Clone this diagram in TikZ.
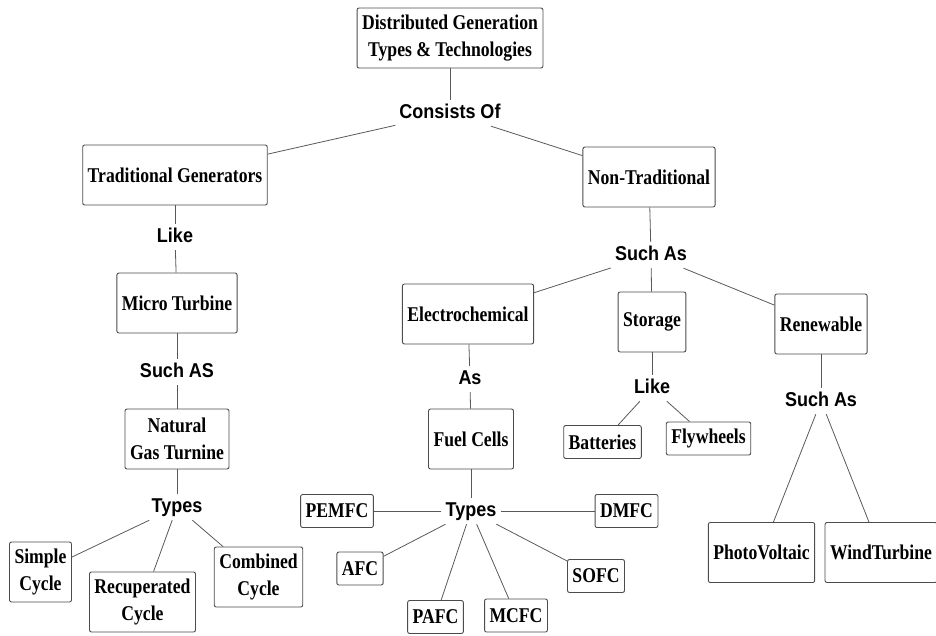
\documentclass[tikz,border=0pt]{standalone}
\usepackage{fontspec}
\setmainfont{Liberation Serif}[FakeStretch=0.84]
\newfontfamily\lblfont{Liberation Sans}[FakeStretch=0.9]

\begin{document}
\begin{tikzpicture}[x=1pt, y=-1pt,
        box/.style={rectangle, rounded corners=2pt, draw=black!70, line width=0.9pt,
                    fill=white, align=center, inner xsep=5pt, minimum height=60pt,
                    font=\fontsize{21}{27}\selectfont\bfseries},
        smallbox/.style={box, minimum height=33pt},
        lbl/.style={inner sep=4pt, text height=14pt, text depth=4pt,
                    font=\lblfont\fontsize{20}{24}\selectfont\bfseries},
        con/.style={black!65, line width=0.8pt}]
        \useasboundingbox (0,0) rectangle (936,635);
        \clip (0,0) rectangle (936,635);
        \node[box] (dgt) at (450,38) {Distributed Generation\\Types \& Technologies};
        \node[lbl] (consists) at (450,113) {Consists Of};
        \node[box] (trad)    at (175,175) {Traditional Generators};
        \node[box] (nontrad) at (649,177) {Non-Traditional};
        \node[lbl] (like1)   at (175,237) {Like};
        \node[box] (micro)   at (177,303) {Micro Turbine};
        \node[lbl] (suchas1) at (177,372) {Such AS};
        \node[box] (natgas)  at (177,439) {Natural\\Gas Turnine};
        \node[lbl] (types1)  at (177,507) {Types};
        \node[box] (simple)  at (40.5,572) {Simple\\Cycle};
        \node[box] (recup)   at (142.5,602) {Recuperated\\Cycle};
        \node[box] (comb)    at (258.5,577) {Combined\\Cycle};
        \node[lbl] (suchas2) at (651,255) {Such As};
        \node[box] (electro) at (468,314) {Electrochemical};
        \node[box] (storage) at (652,322) {Storage};
        \node[box] (renew)   at (821,324) {Renewable};
        \node[lbl] (as)      at (470,379) {As};
        \node[box] (fuel)    at (471,439) {Fuel Cells};
        \node[lbl] (types2)  at (471,511) {Types};
        \node[smallbox] (pemfc) at (337,511) {PEMFC};
        \node[smallbox] (dmfc)  at (626.5,511) {DMFC};
        \node[smallbox] (afc)   at (360,568.5) {AFC};
        \node[smallbox] (pafc)  at (435.5,617) {PAFC};
        \node[smallbox] (mcfc)  at (516,615.5) {MCFC};
        \node[smallbox] (sofc)  at (596,576) {SOFC};
        \node[lbl] (like2)   at (652,388) {Like};
        \node[smallbox] (batt)  at (602.5,442) {Batteries};
        \node[smallbox] (fly)   at (708.5,438.5) {Flywheels};
        \node[lbl] (suchas3) at (821,401) {Such As};
        \node[box] (pv)      at (761.5,552.5) {PhotoVoltaic};
        \node[box] (wind)    at (881,552.5) {WindTurbine};
        \draw[con] (dgt) -- (consists);
        \draw[con] (consists) -- (trad);
        \draw[con] (consists) -- (nontrad);
        \draw[con] (trad) -- (like1);
        \draw[con] (like1) -- (micro);
        \draw[con] (micro) -- (suchas1);
        \draw[con] (suchas1) -- (natgas);
        \draw[con] (natgas) -- (types1);
        \draw[con] (types1) -- (simple);
        \draw[con] (types1) -- (recup);
        \draw[con] (types1) -- (comb);
        \draw[con] (nontrad) -- (suchas2);
        \draw[con] (suchas2) -- (electro);
        \draw[con] (suchas2) -- (storage);
        \draw[con] (suchas2) -- (renew);
        \draw[con] (electro) -- (as);
        \draw[con] (as) -- (fuel);
        \draw[con] (fuel) -- (types2);
        \draw[con] (types2) -- (pemfc);
        \draw[con] (types2) -- (dmfc);
        \draw[con] (types2) -- (afc);
        \draw[con] (types2) -- (pafc);
        \draw[con] (types2) -- (mcfc);
        \draw[con] (types2) -- (sofc);
        \draw[con] (storage) -- (like2);
        \draw[con] (like2) -- (batt);
        \draw[con] (like2) -- (fly);
        \draw[con] (renew) -- (suchas3);
        \draw[con] (suchas3) -- (pv);
        \draw[con] (suchas3) -- (wind);
    \end{tikzpicture}
\end{document}
